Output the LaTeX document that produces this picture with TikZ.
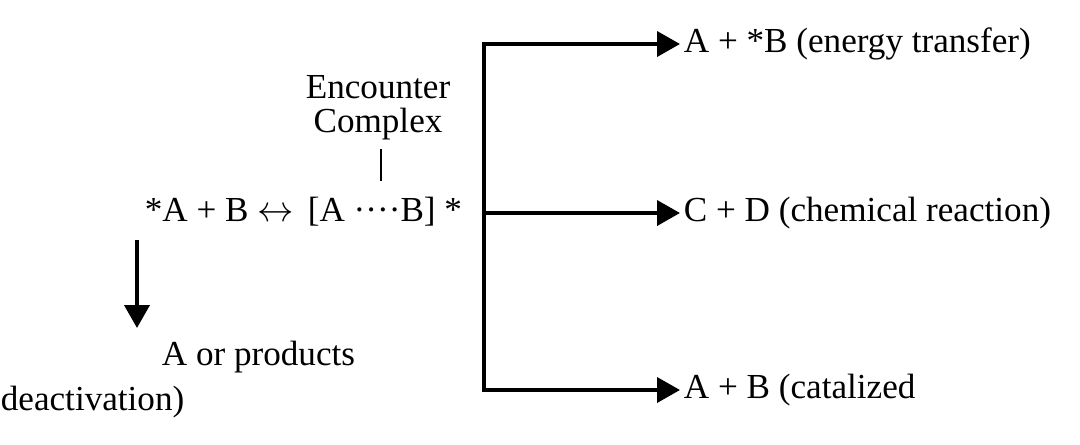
\documentclass[tikz,border=0pt]{standalone}
\usepackage{fontspec}
\setmainfont{Liberation Serif}
\usetikzlibrary{arrows.meta,positioning}

\begin{document}
\begin{tikzpicture}[
    x=0.02cm, y=-0.02cm,   % one unit is one pixel of the reference, y downwards
    every node/.style={font=\fontsize{20}{19.5}\selectfont, inner sep=2pt},
    flow/.style={line width=2.2pt, line join=miter},
    arr/.style={flow, -{Triangle[length=0.46cm, width=0.5cm]}},
    dblarr/.style={flow, {Triangle[length=0.46cm, width=0.5cm]}-{Triangle[length=0.46cm, width=0.5cm]}},
    tick/.style={line width=0.7pt}
]
\useasboundingbox (0,0) rectangle (1080,444);

% left part: the encounter
\node[anchor=west] (eq) at (141,212) {*A + B $\leftrightarrow$\hspace{0.4em}[A ····B] *};
\node[align=center] (enc) at (378,108) {Encounter\\Complex};
\draw[tick] (381,149) -- (381,181);

% deactivation
\coordinate (dtop) at (137,240);
\coordinate (dend) at (137,328);
\draw[arr] (dtop) -- (dend);
\node[anchor=west] (prod) at (158,357) {A or products};
\node[anchor=west] (deact) at (-3,402) {deactivation)};

% right part: the three outcomes
\coordinate (bx) at (484,213);
\node[anchor=west] (et) at (680,44) {A + *B (energy transfer)};
\node[anchor=west] (cr) at (680,213) {C + D (chemical reaction)};
\node[anchor=west] (cat) at (680,390) {A + B (catalized};

\draw[dblarr] (et.west) -- (et.west -| bx) -- (cat.west -| bx) -- (cat.west);
\draw[arr] (cr.west -| bx) -- (cr.west);
\end{tikzpicture}
\end{document}
